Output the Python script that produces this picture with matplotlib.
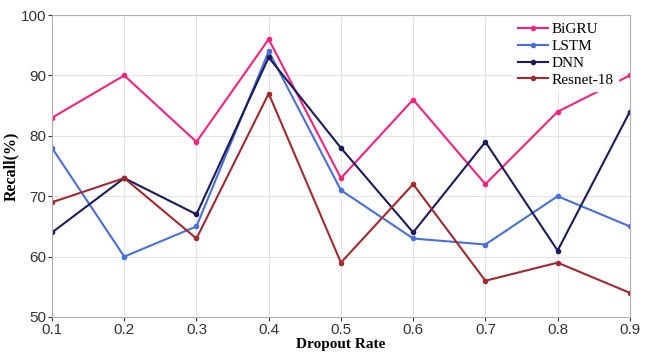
import matplotlib
matplotlib.use("Agg")
from matplotlib import pyplot as plt

dropout = [0.1, 0.2, 0.3, 0.4, 0.5, 0.6, 0.7, 0.8, 0.9]
bigru = [83, 90, 79, 96, 73, 86, 72, 84, 90]
lstm = [78, 60, 65, 94, 71, 63, 62, 70, 65]
dnn = [64, 73, 67, 93, 78, 64, 79, 61, 84]
resnet = [69, 73, 63, 87, 59, 72, 56, 59, 54]

series = [
    ("BiGRU", bigru, "#f5237f"),
    ("LSTM", lstm, "#4a6fd8"),
    ("DNN", dnn, "#1b1a5c"),
    ("Resnet-18", resnet, "#a02a30"),
]

fig = plt.figure(figsize=(6.5, 3.59), dpi=100)
ax = fig.add_axes([0.08, 0.117, 0.889, 0.841])

for name, vals, col in series:
    ax.plot(dropout, vals, color=col, lw=1.5, marker="o", ms=3, label=name)

ax.set_xlim(0.1, 0.9)
ax.set_ylim(50, 100)
ax.set_xticks(dropout)
ax.set_xticklabels([f"{v:.1f}" for v in dropout])
ax.set_yticks([50, 60, 70, 80, 90, 100])
ax.grid(True, color="#e3e3e3", lw=0.8)
ax.set_axisbelow(True)
for s in ax.spines.values():
    s.set_color("#b0b0b0")
ax.tick_params(axis="both", labelsize=11, colors="#333333", length=3, pad=1)
for lab in ax.get_xticklabels() + ax.get_yticklabels():
    lab.set_family("Liberation Sans")

ax.set_xlabel("Dropout Rate", family="Liberation Serif", fontweight="bold",
              fontsize=11, labelpad=1)
ax.set_ylabel("Recall(%)", family="Liberation Serif", fontweight="bold",
              fontsize=11.5, labelpad=1)

leg = ax.legend(loc="upper right", bbox_to_anchor=(0.985, 1.0),
                prop={"family": "Liberation Serif", "size": 11},
                frameon=True, fancybox=False, edgecolor="white",
                framealpha=1, handlelength=2.0, handletextpad=0.2,
                labelspacing=0.2, borderpad=0.3, borderaxespad=0.2)

fig.savefig("out.png", dpi=100)
